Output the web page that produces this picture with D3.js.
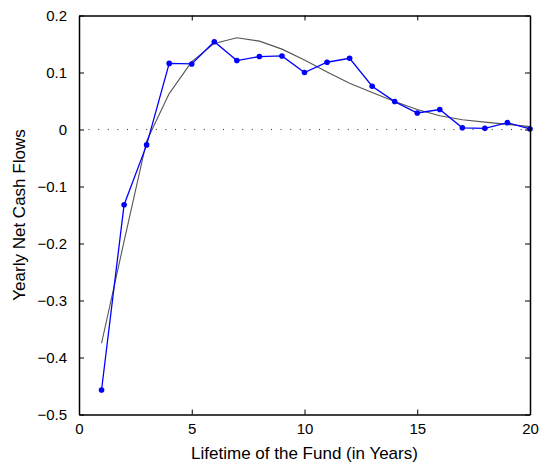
<html>
<head><meta charset="utf-8"></head>
<script src="https://d3js.org/d3.v7.min.js"></script>
<style>
  body { margin: 0; background: #fff; }
  text { font-family: "Liberation Sans", Arial, Helvetica, sans-serif; }
</style>
<body>
<svg width="545" height="465"></svg>
<script>
// yearly observations (blue) and the fitted curve (gray)
var years = d3.range(1, 21);
var actual = [-0.457, -0.132, -0.027, 0.116, 0.115, 0.154, 0.121, 0.128, 0.129, 0.100,
              0.118, 0.125, 0.076, 0.049, 0.029, 0.035, 0.003, 0.002, 0.012, 0.001];
var fitted = [-0.375, -0.196, -0.020, 0.063, 0.119, 0.151, 0.161, 0.155, 0.141, 0.122,
              0.101, 0.081, 0.065, 0.049, 0.035, 0.024, 0.017, 0.013, 0.009, 0.005];
var xTicks = [0, 5, 10, 15, 20];
var yTicks = [-0.5, -0.4, -0.3, -0.2, -0.1, 0, 0.1, 0.2];

var svg = d3.select("svg");
var pLeft = 79, pRight = 530, pTop = 15.5, pBottom = 414.5;

var x = d3.scaleLinear().domain([0, 20]).range([pLeft, pRight]);
var y = d3.scaleLinear().domain([-0.5, 0.2]).range([pBottom, pTop]);

// zero line, dotted
svg.append("line")
  .attr("x1", x(0)).attr("x2", x(20))
  .attr("y1", y(0)).attr("y2", y(0))
  .attr("stroke", "#333").attr("stroke-width", 1)
  .attr("stroke-dasharray", "1,8.6");

var line = d3.line()
  .x(function(d, i) { return x(years[i]); })
  .y(function(d) { return y(d); });

svg.append("path").datum(fitted)
  .attr("d", line)
  .attr("fill", "none").attr("stroke", "#555").attr("stroke-width", 1.1);

svg.append("path").datum(actual)
  .attr("d", line)
  .attr("fill", "none").attr("stroke", "#0000ff").attr("stroke-width", 1.3);

svg.append("g").selectAll("circle").data(actual).enter().append("circle")
  .attr("cx", function(d, i) { return x(years[i]); })
  .attr("cy", function(d) { return y(d); })
  .attr("r", 2.8)
  .attr("fill", "#0000ff");

// box axes, ticks pointing inward
var fmt = d3.format("");
var axes = [
  svg.append("g").attr("transform", "translate(0," + pBottom + ")")
    .call(d3.axisBottom(x).tickValues(xTicks).tickSizeInner(-5).tickSizeOuter(0).tickPadding(9).tickFormat(fmt)),
  svg.append("g").attr("transform", "translate(0," + pTop + ")")
    .call(d3.axisTop(x).tickValues(xTicks).tickSizeInner(-5).tickSizeOuter(0).tickFormat("")),
  svg.append("g").attr("transform", "translate(" + pLeft + ",0)")
    .call(d3.axisLeft(y).tickValues(yTicks).tickSizeInner(-5).tickSizeOuter(0).tickPadding(12).tickFormat(fmt)),
  svg.append("g").attr("transform", "translate(" + pRight + ",0)")
    .call(d3.axisRight(y).tickValues(yTicks).tickSizeInner(-5).tickSizeOuter(0).tickFormat(""))
];
axes.forEach(function(g) {
  g.select(".domain").attr("stroke", "#000").attr("stroke-width", 1.5);
  g.selectAll(".tick line").attr("stroke", "#000");
  g.selectAll(".tick text").attr("font-size", 15).attr("fill", "#000")
    .attr("font-family", "'Liberation Sans', Arial, sans-serif");
});

svg.append("text")
  .attr("x", (pLeft + pRight) / 2).attr("y", 459)
  .attr("text-anchor", "middle").attr("font-size", 17)
  .text("Lifetime of the Fund (in Years)");

svg.append("text")
  .attr("transform", "translate(25," + (pTop + pBottom) / 2 + ") rotate(-90)")
  .attr("text-anchor", "middle").attr("font-size", 17)
  .text("Yearly Net Cash Flows");
</script>
</body>
</html>
